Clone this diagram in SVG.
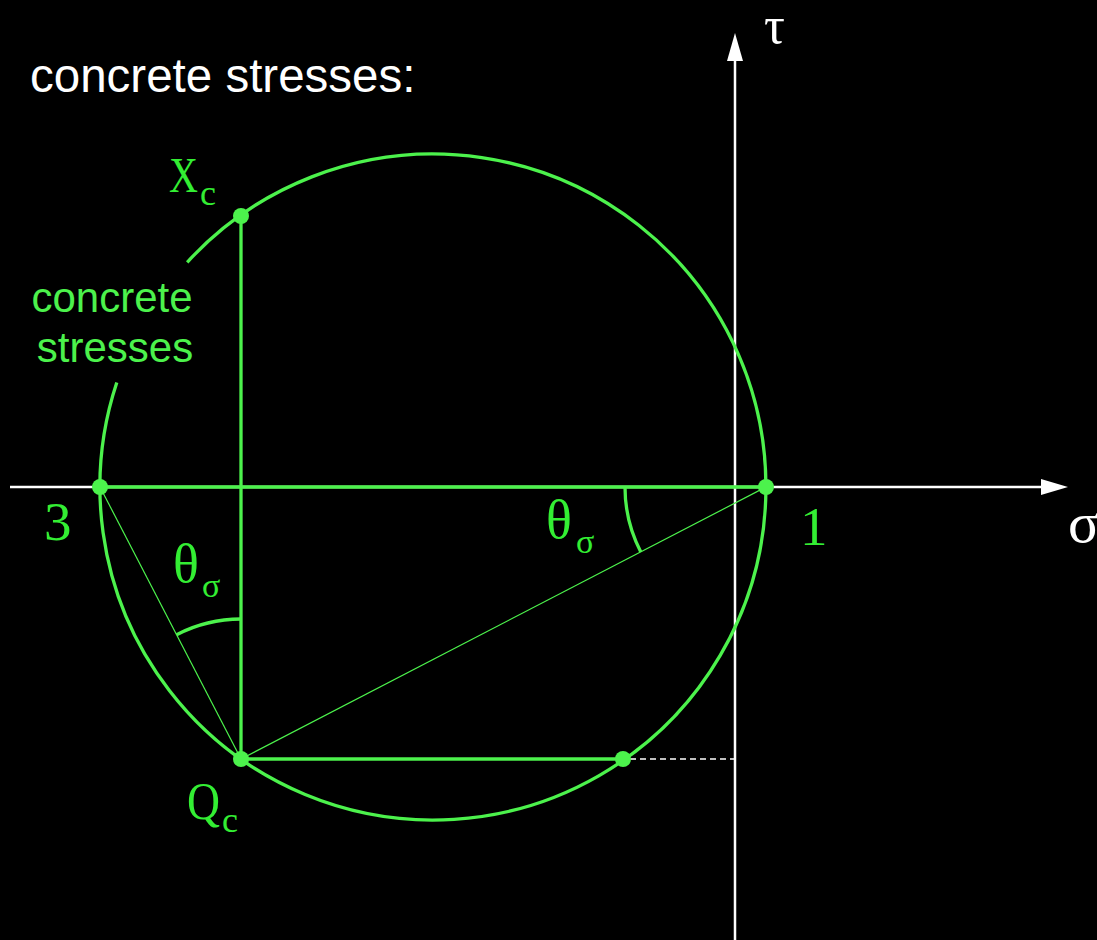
<svg xmlns="http://www.w3.org/2000/svg" width="1097" height="940" viewBox="0 0 1097 940">
<defs>
<style>
.ax{stroke:#ffffff;stroke-width:2.5;fill:none}
.g{stroke:#4cf24c;stroke-width:3.3;fill:none}
.gt{stroke:#4cf24c;stroke-width:1.2;fill:none}
.dot{fill:#4cf24c}
.lbl{font-family:"Liberation Serif","Times New Roman",serif;fill:#33ee33}
.sans{font-family:"Liberation Sans",Arial,sans-serif}
</style>
</defs>
<rect x="0" y="0" width="1097" height="940" fill="#000000"/>
<g id="axes">
<line class="ax" x1="10" y1="487" x2="1044" y2="487"/>
<polygon points="1068,487 1041,479 1041,495" fill="#ffffff"/>
<line class="ax" x1="735" y1="940" x2="735" y2="58"/>
<polygon points="735,33 727,61 743,61" fill="#ffffff"/>
<text x="764" y="43" font-family="Liberation Serif,serif" font-size="52" fill="#ffffff">τ</text>
<text x="1068" y="542" font-family="Liberation Serif,serif" font-size="58" fill="#ffffff">σ</text>
</g>
<g id="circle">
<path class="g" d="M 187.2 262.3 A 333 333 0 1 1 116.8 382.4"/>
</g>
<g id="connectors">
<line class="g" x1="100" y1="487" x2="766" y2="487"/>
<line class="g" x1="241" y1="216" x2="241" y2="759"/>
<line class="g" x1="241" y1="759" x2="623" y2="759"/>
<line class="gt" x1="100" y1="487" x2="241" y2="759"/>
<line class="gt" x1="241" y1="759" x2="766" y2="487"/>
<line x1="630" y1="759" x2="735" y2="759" stroke="#ffffff" stroke-width="1.5" stroke-dasharray="6 4"/>
<path class="g" stroke-width="2.5" d="M 241 619 A 140 140 0 0 0 176.6 634.7"/>
<path class="g" stroke-width="2.5" d="M 625 487 A 141 141 0 0 0 640.8 551.9"/>
</g>
<g id="node-Xc">
<circle class="dot" cx="241" cy="216" r="8"/>
<text class="lbl" x="169" y="192" font-size="50"><tspan textLength="29" lengthAdjust="spacingAndGlyphs">X</tspan><tspan x="200" y="205" font-size="36">c</tspan></text>
</g>
<g id="node-Qc">
<circle class="dot" cx="241" cy="759" r="8"/>
<text class="lbl" x="187" y="819" font-size="52"><tspan textLength="33" lengthAdjust="spacingAndGlyphs">Q</tspan><tspan x="222" y="832" font-size="36">c</tspan></text>
</g>
<g id="node-3">
<circle class="dot" cx="100" cy="487" r="8"/>
<text class="lbl" x="44" y="540" font-size="55">3</text>
</g>
<g id="node-1">
<circle class="dot" cx="766" cy="487" r="8"/>
<text class="lbl" x="800" y="545" font-size="55">1</text>
</g>
<g id="node-P">
<circle class="dot" cx="623" cy="759" r="8"/>
</g>
<g id="angle-labels">
<text class="lbl" x="173" y="582" font-size="54">θ<tspan x="202" y="597" font-size="34">σ</tspan></text>
<text class="lbl" x="546" y="538" font-size="54">θ<tspan x="576" y="553" font-size="34">σ</tspan></text>
</g>
<g id="texts">
<text class="sans" x="30" y="92" font-size="47.5" fill="#ffffff">concrete stresses:</text>
<text class="sans" x="112" y="312" font-size="42" fill="#4cf24c" text-anchor="middle">concrete</text>
<text class="sans" x="115" y="362" font-size="42" fill="#4cf24c" text-anchor="middle">stresses</text>
</g>
</svg>
